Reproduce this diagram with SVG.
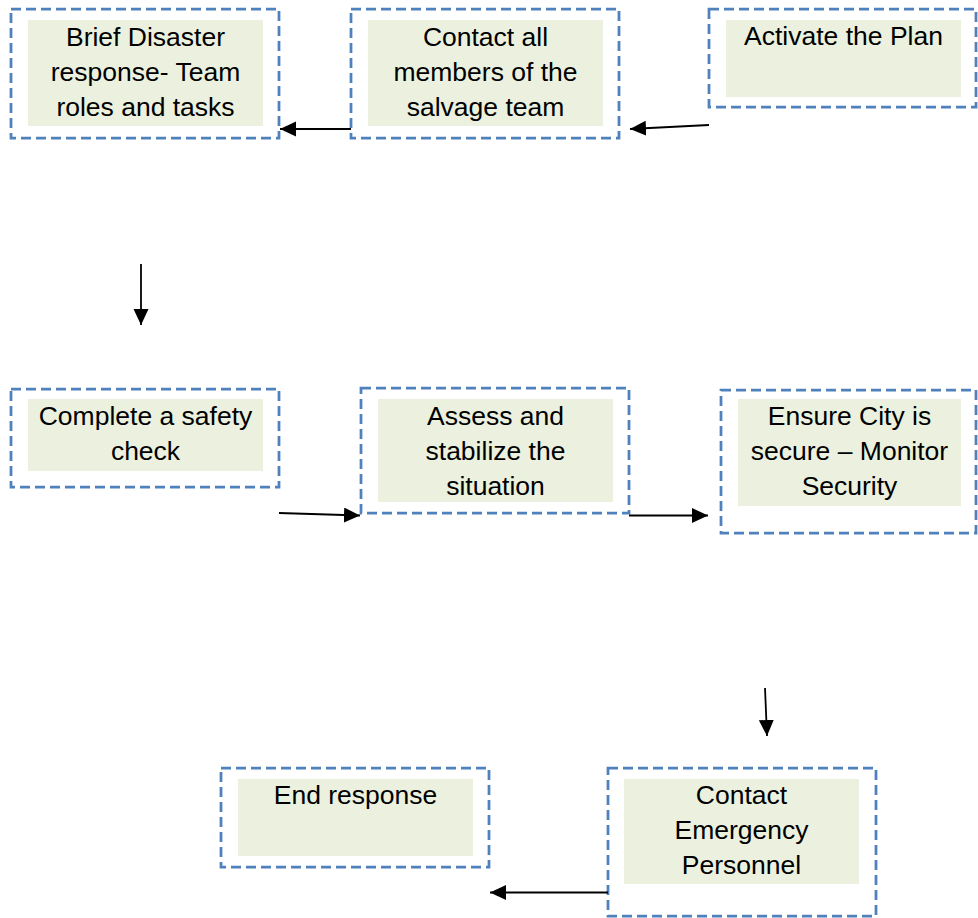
<svg xmlns="http://www.w3.org/2000/svg" width="978" height="918" viewBox="0 0 978 918">
  <style>
    .frame { fill: none; stroke: #4f81bd; stroke-width: 2.75; stroke-dasharray: 10 5; }
    .panel { fill: #ebf1de; stroke: none; }
    .label { font-family: "Liberation Sans", Arial, sans-serif; font-size: 26.5px; fill: #000; text-anchor: middle; }
    .link { fill: none; stroke: #000; stroke-width: 1.8; marker-end: url(#head); }
  </style>
  <defs>
    <marker id="head" markerUnits="userSpaceOnUse" markerWidth="18" markerHeight="16" refX="16" refY="7.5" orient="auto">
      <path d="M0,0 L16,7.5 L0,15 Z" fill="#000"/>
    </marker>
  </defs>
  <rect width="978" height="918" fill="#fff"/>

  <g id="brief-team">
    <rect class="frame" x="11" y="9" width="268" height="129"/>
    <rect class="panel" x="28" y="20" width="235" height="106"/>
    <text class="label" x="145.5" y="46">Brief Disaster</text>
    <text class="label" x="145.5" y="81">response- Team</text>
    <text class="label" x="145.5" y="116">roles and tasks</text>
  </g>

  <g id="contact-team">
    <rect class="frame" x="351" y="9" width="268" height="129"/>
    <rect class="panel" x="368" y="20" width="235" height="106"/>
    <text class="label" x="485.5" y="46">Contact all</text>
    <text class="label" x="485.5" y="81">members of the</text>
    <text class="label" x="485.5" y="116">salvage team</text>
  </g>

  <g id="activate-plan">
    <rect class="frame" x="709" y="9" width="267" height="98"/>
    <rect class="panel" x="726" y="20" width="235" height="77"/>
    <text class="label" x="843.5" y="45">Activate the Plan</text>
  </g>

  <g id="safety-check">
    <rect class="frame" x="11" y="389" width="268" height="98"/>
    <rect class="panel" x="28" y="399" width="235" height="72"/>
    <text class="label" x="145.5" y="425">Complete a safety</text>
    <text class="label" x="145.5" y="460">check</text>
  </g>

  <g id="assess-stabilize">
    <rect class="frame" x="361" y="388" width="268" height="125"/>
    <rect class="panel" x="378" y="399" width="235" height="103"/>
    <text class="label" x="495.5" y="425">Assess and</text>
    <text class="label" x="495.5" y="460">stabilize the</text>
    <text class="label" x="495.5" y="495">situation</text>
  </g>

  <g id="secure-city">
    <rect class="frame" x="721" y="390" width="255" height="143"/>
    <rect class="panel" x="738" y="399" width="223" height="107"/>
    <text class="label" x="849.5" y="425">Ensure City is</text>
    <text class="label" x="849.5" y="460">secure – Monitor</text>
    <text class="label" x="849.5" y="495">Security</text>
  </g>

  <g id="contact-emergency">
    <rect class="frame" x="608" y="768" width="268" height="148"/>
    <rect class="panel" x="624" y="779" width="235" height="105"/>
    <text class="label" x="741.5" y="804">Contact</text>
    <text class="label" x="741.5" y="839">Emergency</text>
    <text class="label" x="741.5" y="874">Personnel</text>
  </g>

  <g id="end-response">
    <rect class="frame" x="221" y="768" width="268" height="99"/>
    <rect class="panel" x="238" y="779" width="235" height="77"/>
    <text class="label" x="355.5" y="804">End response</text>
  </g>

  <g id="connectors">
    <line class="link" x1="709" y1="125" x2="630" y2="129"/>
    <line class="link" x1="351" y1="129" x2="280" y2="129"/>
    <line class="link" x1="141" y1="264" x2="141" y2="325"/>
    <line class="link" x1="279" y1="513" x2="360" y2="515.5"/>
    <line class="link" x1="629" y1="515.5" x2="708" y2="515.5"/>
    <line class="link" x1="765" y1="688" x2="767" y2="736"/>
    <line class="link" x1="608" y1="892.5" x2="490" y2="892.5"/>
  </g>
</svg>
